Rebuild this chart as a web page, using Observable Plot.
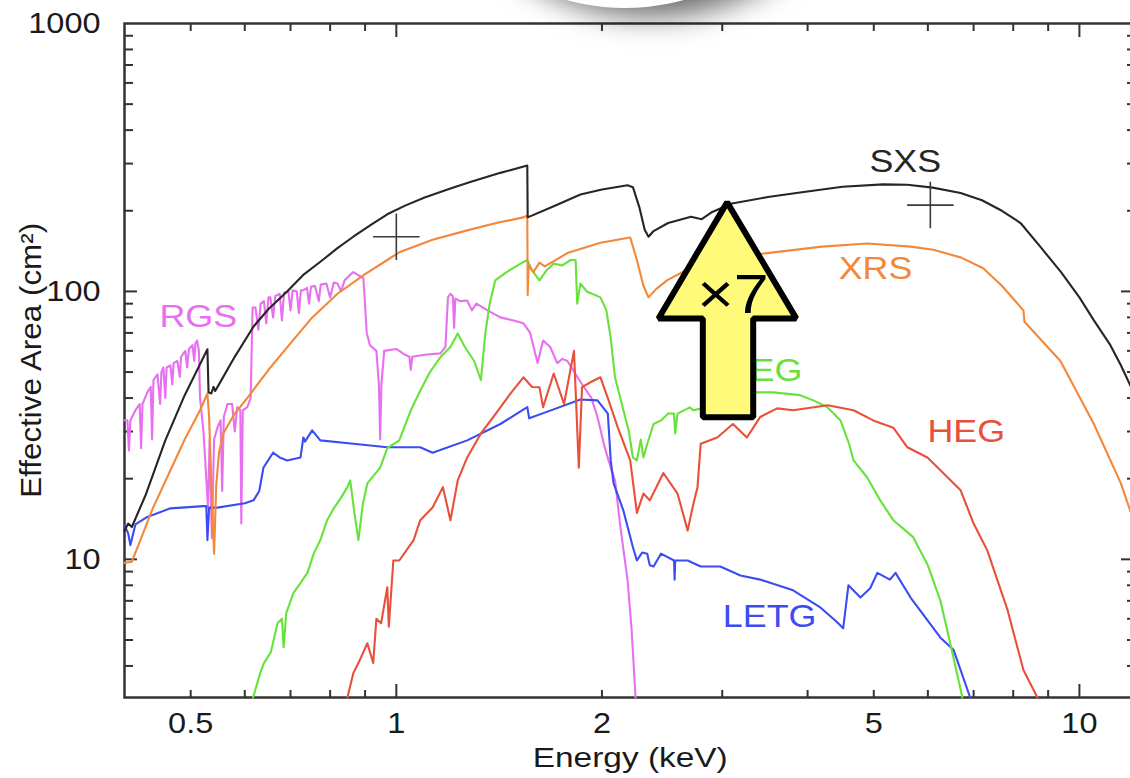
<!DOCTYPE html>
<html>
<head>
<meta charset="utf-8">
<script src="https://cdn.jsdelivr.net/npm/d3@7"></script>
<script src="https://cdn.jsdelivr.net/npm/@observablehq/plot@0.6"></script>
<style>
html, body { margin: 0; padding: 0; background: #fff; overflow: hidden; width: 1130px; height: 778px; }
#wrap { position: relative; width: 1130px; height: 778px; overflow: hidden; }
#chart { position: absolute; left: 0; top: 0; }
#shadow { position: absolute; left: 405px; top: -432px; width: 440px; height: 440px; border-radius: 50%;
  background: #fff; box-shadow: 26px 2px 30px 6px rgba(0,0,0,0.6); z-index: 2; pointer-events: none; }
</style>
</head>
<body>
<div id="wrap"><div id="chart"></div><div id="shadow"></div></div>
<script>
// ---- series: [energy keV, effective area cm^2] ----
const sxsData = [[0.400,12.8],[0.405,13.6],[0.41,13.2],[0.43,17.5],[0.459,27.8],[0.49,41],[0.529,60.8],[0.531,42],[0.536,41.6],[0.54,44],[0.543,42.5],[0.549,44.6],[0.58,57],[0.618,74],[0.65,86],[0.692,100],[0.73,115],[0.78,131],[0.82,145],[0.865,160],[0.92,178],[0.97,194],[1.03,209],[1.1,224],[1.2,242],[1.283,256],[1.42,277],[1.555,295],[1.557,189],[1.7,208],[1.86,230],[2.0,240],[2.18,249],[2.22,245],[2.27,205],[2.31,170],[2.34,160],[2.38,168],[2.5,180],[2.7,190],[2.8,186],[2.9,198],[3.1,213],[3.5,225],[3.9,234],[4.5,246],[5.16,251],[5.6,250],[6.1,244],[6.7,233],[7.2,219],[7.7,200],[8.2,180],[8.8,145],[9.4,118],[10.0,95],[10.5,78],[11.1,63],[11.5,53],[12.0,42]];
const xrsData = [[0.400,9.7],[0.41,9.8],[0.422,11.8],[0.44,15.5],[0.467,21.5],[0.49,28],[0.516,36],[0.529,41.6],[0.532,34],[0.536,19.2],[0.541,10.5],[0.545,19],[0.55,25],[0.558,29.5],[0.58,35],[0.605,40],[0.65,51],[0.692,61.8],[0.75,79],[0.82,98],[0.9,116],[0.97,131],[1.01,140],[1.13,156],[1.27,169],[1.4,180],[1.535,189],[1.555,192],[1.557,97],[1.562,125],[1.587,118],[1.62,128],[1.65,124],[1.78,139],[1.99,152],[2.2,159],[2.25,131],[2.30,105],[2.34,95],[2.4,102],[2.49,110],[2.69,122],[2.8,126],[3.0,132],[3.49,139],[4.2,147],[4.89,151],[5.66,147],[6.11,143],[6.7,134],[7.23,122],[7.7,105],[8.28,85],[8.31,77],[9.38,55],[10.5,32],[11.5,19.2],[12.0,14]];
const rgsData = [[0.400,33],[0.404,33],[0.406,25.5],[0.408,33],[0.415,36],[0.421,38],[0.423,26],[0.425,38],[0.432,42],[0.437,44],[0.439,28],[0.441,46.6],[0.447,49],[0.451,38],[0.453,50],[0.456,52],[0.459,40],[0.461,52],[0.467,53],[0.47,45],[0.472,54],[0.478,55],[0.482,48],[0.484,57],[0.491,60],[0.494,52],[0.497,61],[0.503,63],[0.506,55],[0.508,64],[0.511,65.6],[0.514,60],[0.516,40],[0.522,30],[0.527,20],[0.53,15.6],[0.533,28],[0.537,12],[0.541,28],[0.547,31],[0.553,33],[0.556,18],[0.559,34],[0.566,38],[0.575,38],[0.58,30],[0.585,37],[0.591,36],[0.593,13.6],[0.596,36],[0.605,37],[0.612,40],[0.616,87],[0.622,87],[0.628,72],[0.633,90],[0.64,92],[0.645,76],[0.65,95],[0.654,95],[0.66,80],[0.665,96],[0.675,98],[0.68,78],[0.685,99],[0.695,100],[0.7,85],[0.705,101],[0.715,100],[0.72,83],[0.725,101],[0.731,101],[0.74,103],[0.745,90],[0.75,104],[0.76,105],[0.77,92],[0.775,106],[0.79,107],[0.8,95],[0.81,108],[0.82,107],[0.83,100],[0.84,110],[0.855,115],[0.865,118],[0.875,116],[0.895,112],[0.905,70],[0.915,63],[0.935,60],[0.943,45],[0.947,28],[0.951,45],[0.96,60],[1.0,61],[1.03,58],[1.045,57],[1.05,51],[1.055,57],[1.1,58],[1.16,58.7],[1.18,62],[1.19,95],[1.2,98],[1.21,96],[1.215,73],[1.22,94],[1.24,92],[1.27,92.5],[1.29,85],[1.31,90],[1.36,85],[1.42,80],[1.48,78],[1.535,76],[1.57,70],[1.61,54],[1.64,65.6],[1.68,62],[1.72,54],[1.75,56],[1.78,55],[1.86,46],[1.93,40],[1.97,34],[2.02,26],[2.06,22],[2.09,19.7],[2.13,13],[2.18,8.4],[2.21,5.5],[2.24,3.05]];
const megData = [[0.617,3.05],[0.632,3.76],[0.64,4.1],[0.655,4.5],[0.67,5.77],[0.68,6.0],[0.684,4.7],[0.69,6.3],[0.707,7.5],[0.72,8.0],[0.741,8.9],[0.757,10.5],[0.774,11.8],[0.792,14],[0.81,15.5],[0.83,17],[0.848,18.6],[0.856,19.7],[0.868,15],[0.88,11.8],[0.893,16],[0.907,19.2],[0.947,22],[0.97,26],[1.01,27.8],[1.05,36],[1.084,42.6],[1.12,50],[1.16,56.8],[1.2,62],[1.23,69.7],[1.26,62],[1.3,55],[1.33,46.6],[1.35,70],[1.37,90],[1.396,110],[1.45,118],[1.52,127],[1.555,131],[1.58,120],[1.62,110],[1.66,120],[1.70,127],[1.75,125],[1.80,131],[1.83,131],[1.84,90],[1.86,107],[1.9,100],[1.99,95],[2.03,85],[2.06,67],[2.09,47.8],[2.15,36],[2.19,30],[2.22,24],[2.25,23.4],[2.28,28],[2.3,24],[2.33,27],[2.38,32],[2.44,33],[2.5,35],[2.55,35],[2.56,29.5],[2.58,35],[2.69,36.9],[2.72,36],[2.85,37],[3.0,39],[3.2,41],[3.33,42],[3.56,42],[3.9,41],[4.08,39.2],[4.28,36.9],[4.47,33],[4.6,27],[4.67,23.4],[4.89,20.2],[5.11,16.6],[5.34,14],[5.71,12.1],[6.0,9.5],[6.26,7.0],[6.54,4.3],[6.74,3.05]];
const hegData = [[0.848,3.05],[0.865,3.76],[0.88,4.1],[0.907,4.86],[0.925,4.1],[0.935,6.0],[0.95,5.77],[0.97,7.87],[0.975,5.6],[0.99,9.9],[1.01,9.9],[1.06,11.8],[1.084,14],[1.13,15.6],[1.17,18.6],[1.2,14],[1.23,19.7],[1.27,24],[1.33,29.5],[1.387,34],[1.47,41.6],[1.535,47.8],[1.58,44],[1.62,43.9],[1.64,37],[1.70,49.4],[1.76,38],[1.82,60],[1.85,22],[1.87,43.9],[1.93,46],[1.99,47.8],[2.04,40],[2.11,31],[2.2,23.4],[2.25,14.9],[2.30,17.6],[2.35,16.6],[2.46,21],[2.58,17.6],[2.67,12.8],[2.72,16],[2.76,18.6],[2.79,27],[2.95,28.5],[3.11,32],[3.26,28.5],[3.41,34],[3.61,36.6],[3.81,36],[4.28,37.6],[4.67,36],[4.99,33],[5.34,31],[5.6,26.2],[5.99,24],[6.26,21.5],[6.7,18.1],[7.0,13.6],[7.33,10.8],[7.85,6.46],[8.28,3.86],[8.68,3.05]];
const letgData = [[0.400,13.4],[0.405,12.5],[0.408,11.3],[0.415,13.5],[0.432,14.4],[0.467,15.5],[0.522,15.8],[0.527,15.8],[0.529,11.8],[0.532,15.6],[0.547,15.6],[0.6,16.2],[0.618,16.6],[0.63,18],[0.639,22],[0.66,25],[0.675,24],[0.692,23.4],[0.724,24],[0.731,28.5],[0.735,27.5],[0.753,30.3],[0.774,27.8],[0.865,27],[0.97,26.2],[1.084,26.2],[1.13,25],[1.27,27.8],[1.42,32],[1.555,37],[1.565,33.6],[1.68,35.9],[1.86,39.5],[1.97,39.2],[2.04,35],[2.06,23.4],[2.08,19.2],[2.15,15.2],[2.22,11.1],[2.25,9.9],[2.29,10.6],[2.33,10.5],[2.35,9.5],[2.38,9.4],[2.44,10.5],[2.55,9.9],[2.555,8.4],[2.56,9.9],[2.67,9.9],[2.79,9.4],[2.98,9.4],[3.19,8.7],[3.41,8.4],[3.81,7.66],[4.18,6.6],[4.42,5.82],[4.51,5.53],[4.59,8.0],[4.78,7.2],[4.94,7.8],[5.06,8.9],[5.28,8.4],[5.38,8.9],[5.66,7.2],[6.26,5.1],[6.54,4.6],[6.92,3.05]];

const seriesNames = ["RGS", "LETG", "MEG", "HEG", "XRS", "SXS"];
const seriesColors = ["#e86ff0", "#3b4cf0", "#66e23a", "#e8503a", "#f2883a", "#262626"];
const seriesData = [rgsData, letgData, megData, hegData, xrsData, sxsData];

// in-plot labels
const labelNames = ["SXS", "XRS", "RGS", "MEG", "HEG", "LETG"];
const labelE = [5.56, 5.03, 0.513, 3.93, 6.83, 3.52];
const labelA = [305, 122, 80.7, 50.7, 30.0, 6.08];
const labelAnchor = ["middle", "middle", "middle", "end", "middle", "middle"];

// "+" markers
const plusE = [1.0, 6.05];
const plusA = [160, 210];

// yellow arrow outline (keV, cm^2) and its label
const arrowE = [3.06, 3.33, 3.33, 3.85, 3.05, 2.42, 2.81, 2.81, 3.06];
const arrowA = [33.9, 33.9, 79.3, 79.3, 215, 79.3, 79.3, 33.9, 33.9];
const arrowText = "×7";
const arrowTextE = 3.11, arrowTextA = 96.6;

// ticks
const xTickLabels = [0.5, 1, 2, 5, 10];
const xMinor = [0.5, 0.6, 0.7, 0.8, 0.9, 2, 3, 4, 5, 6, 7, 8, 9];
const xMajor = [1, 10];
const yTickLabels = [10, 100, 1000];
const yMinor = [4, 5, 6, 7, 8, 9, 20, 30, 40, 50, 60, 70, 80, 90, 200, 300, 400, 500, 600, 700, 800, 900];
const yMajor = [10, 100];

// ---- build tables ----
const rows = [];
seriesNames.forEach((s, k) => seriesData[k].forEach(([e, a]) => rows.push({series: s, e, a})));
const labels = labelNames.map((t, i) => ({t, e: labelE[i], a: labelA[i], anchor: labelAnchor[i]}));
const pluses = plusE.map((e, i) => ({e, a: plusA[i]}));
const arrow = arrowE.map((e, i) => ({e, a: arrowA[i]}));

const axisColor = "#333";
const tickStyle = {label: null, tickFormat: () => "", stroke: axisColor, strokeWidth: 2};

const plot = Plot.plot({
  width: 1134, height: 778,
  marginLeft: 124, marginRight: 1, marginTop: 23, marginBottom: 81,
  style: {fontFamily: "'Liberation Sans', Arial, Helvetica, sans-serif", color: "#1a1a1a", background: "transparent", maxWidth: "none", overflow: "visible"},
  x: {type: "log", domain: [0.4, 12]},
  y: {type: "log", domain: [3.05, 1000]},
  color: {domain: seriesNames, range: seriesColors},
  marks: [
    Plot.frame({stroke: axisColor, strokeWidth: 2.5}),
    Plot.axisX(xTickLabels, {anchor: "bottom", tickSize: 0, tickPadding: 15, fontSize: 29, label: null, tickFormat: d => String(d)}),
    Plot.axisX(xMinor, {anchor: "bottom", tickSize: -7, ...tickStyle}),
    Plot.axisX(xMajor, {anchor: "bottom", tickSize: -13, ...tickStyle}),
    Plot.axisX(xMinor, {anchor: "top", tickSize: -7, ...tickStyle}),
    Plot.axisX(xMajor, {anchor: "top", tickSize: -13, ...tickStyle}),
    Plot.axisY(yTickLabels, {anchor: "left", tickSize: 0, tickPadding: 24, fontSize: 29, label: null, tickFormat: d => String(d)}),
    Plot.axisY(yMinor, {anchor: "left", tickSize: -9, ...tickStyle}),
    Plot.axisY(yMajor, {anchor: "left", tickSize: -13, ...tickStyle}),
    Plot.axisY(yMinor, {anchor: "right", tickSize: -7, ...tickStyle}),
    Plot.axisY(yMajor, {anchor: "right", tickSize: -13, ...tickStyle}),
    // axis titles
    Plot.text(["Energy (keV)"], {x: 2.2, frameAnchor: "bottom", dy: 61, lineAnchor: "middle", textAnchor: "middle", text: d => d, fontSize: 27, fill: "#1a1a1a"}),
    Plot.text(["Effective Area (cm²)"], {y: 55.3, frameAnchor: "left", dx: -93, rotate: -90, lineAnchor: "middle", textAnchor: "middle", text: d => d, fontSize: 29, fill: "#1a1a1a"}),
    // curves
    Plot.line(rows, {x: "e", y: "a", z: "series", stroke: "series", strokeWidth: 2.1, curve: "linear"}),
    // plus markers
    Plot.dot(pluses, {x: "e", y: "a", symbol: "plus", r: 15, stroke: "#3a3a3a", strokeWidth: 1.6}),
    // series labels
    Plot.text(labels.filter(d => d.anchor === "middle"), {x: "e", y: "a", text: "t", fill: "t", fontSize: 32}),
    Plot.text(labels.filter(d => d.anchor === "end"), {x: "e", y: "a", text: "t", fill: "t", fontSize: 32, textAnchor: "end"}),
    // arrow annotation
    Plot.line(arrow, {x: "e", y: "a", fill: "#fffa7a", stroke: "#000", strokeWidth: 6, strokeLinejoin: "miter", curve: "linear"}),
    Plot.text([arrowText], {x: arrowTextE, y: arrowTextA, text: d => d, fontSize: 56, fill: "#000"})
  ]
});

document.getElementById("chart").appendChild(plot);

// Reference typography is horizontally wider than Arial: stretch glyphs a little.
const explicitLen = {"Energy (keV)": 195, "Effective Area (cm²)": 275};
d3.select(plot).selectAll("text").each(function () {
  const t = this.textContent;
  if (!t) return;
  const len = this.getComputedTextLength();
  if (!len) return;
  const target = explicitLen[t] ?? len * 1.12;
  this.setAttribute("textLength", target);
  this.setAttribute("lengthAdjust", "spacingAndGlyphs");
});
</script>
</body>
</html>
